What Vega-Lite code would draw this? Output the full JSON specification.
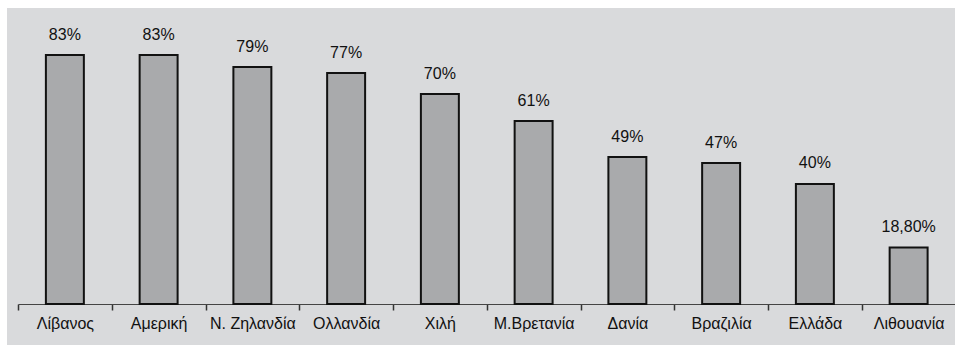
{
  "$schema": "https://vega.github.io/schema/vega-lite/v6.json",
  "width": 948,
  "height": 337,
  "autosize": {"type": "none"},
  "padding": {"left": 7, "top": 8, "right": 0, "bottom": 0},
  "background": "white",
  "config": {
    "view": {"fill": "#d9dadc", "stroke": null},
    "font": "Liberation Sans"
  },
  "data": {
    "values": [
      {"country": "Λίβανος", "value": 83, "label": "83%"},
      {"country": "Αμερική", "value": 83, "label": "83%"},
      {"country": "Ν. Ζηλανδία", "value": 79, "label": "79%"},
      {"country": "Ολλανδία", "value": 77, "label": "77%"},
      {"country": "Χιλή", "value": 70, "label": "70%"},
      {"country": "Μ.Βρετανία", "value": 61, "label": "61%"},
      {"country": "Δανία", "value": 49, "label": "49%"},
      {"country": "Βραζιλία", "value": 47, "label": "47%"},
      {"country": "Ελλάδα", "value": 40, "label": "40%"},
      {"country": "Λιθουανία", "value": 18.8, "label": "18,80%"}
    ]
  },
  "encoding": {
    "x": {
      "field": "country",
      "type": "nominal",
      "sort": null,
      "scale": {"range": [11, 948.5], "paddingInner": 0.595, "paddingOuter": 0.2975, "align": 0.5, "round": false},
      "axis": {
        "title": null,
        "labelAngle": 0,
        "labelFontSize": 16,
        "labelColor": "#111111",
        "labelPadding": 5,
        "labelOffset": 46.875,
        "ticks": true,
        "tickSize": 6,
        "tickWidth": 1.5,
        "tickColor": "#333333",
        "tickOffset": -46.875,
        "domain": true,
        "domainColor": "#444444",
        "domainWidth": 1,
        "grid": false,
        "offset": -41
      }
    },
    "y": {
      "field": "value",
      "type": "quantitative",
      "scale": {"domain": [-13.67, 98.67], "nice": false, "zero": false},
      "axis": null
    }
  },
  "layer": [
    {
      "mark": {"type": "bar", "fill": "#a9aaac", "stroke": "#111111", "strokeWidth": 2},
      "encoding": {"y2": {"datum": 0}}
    },
    {
      "mark": {"type": "text", "dy": -15.5, "baseline": "alphabetic", "fontSize": 16, "color": "#111111"},
      "encoding": {"text": {"field": "label"}}
    }
  ]
}
